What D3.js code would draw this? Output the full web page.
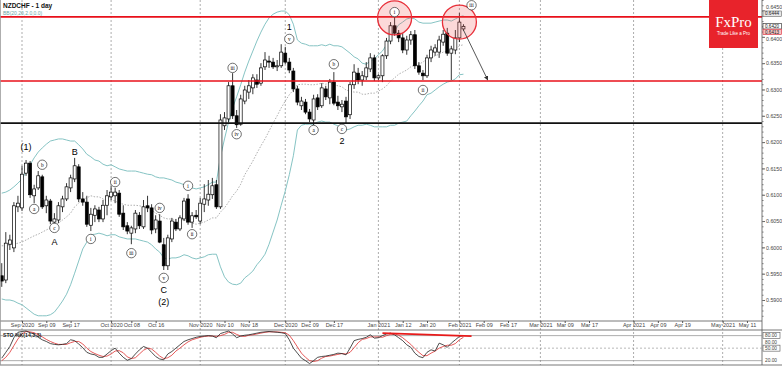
<!DOCTYPE html>
<html>
<head>
<meta charset="utf-8">
<script src="https://cdn.jsdelivr.net/npm/d3@7"></script>
<style>
body { margin: 0; background: #fff; }
svg { display: block; font-family: "Liberation Sans", Arial, sans-serif; }
</style>
</head>
<body>
<svg id="chart" width="782" height="366"></svg>
<script>
// NZDCHF daily candles, 25 Aug 2020 .. 2 Feb 2021 (+ empty future area)
var firstDay = "2020-08-25", lastDay = "2021-05-14";
var holidays = ["2021-01-01"];

var open = [.5946,.5938,.6006,.5999,.6077,.6075,.6141,.6160,.6098,.6113,
  .6134,.6079,.6088,.6048,.6052,.6077,.6092,.6113,.6130,.6153,
  .6092,.6086,.6042,.6061,.6071,.6054,.6080,.6096,.6098,.6103,
  .6065,.6041,.6027,.6035,.6061,.6039,.6079,.6075,.6035,.6050,
  .6005,.5965,.6016,.6048,.6035,.6054,.6092,.6048,.6061,.6050,
  .6082,.6090,.6100,.6119,.6077,.6231,.6244,.6307,.6250,.6234,
  .6278,.6295,.6303,.6318,.6312,.6343,.6354,.6352,.6343,.6345,
  .6369,.6352,.6335,.6301,.6269,.6276,.6257,.6242,.6284,.6269,
  .6301,.6284,.6314,.6276,.6267,.6278,.6252,.6309,.6331,.6318,
  .6324,.6339,.6360,.6322,.6326,.6364,.6392,.6421,.6407,.6398,
  .6375,.6394,.6404,.6345,.6331,.6326,.6360,.6371,.6371,.6390,
  .6407,.6369,.6375,.6398,.6415];
var high = [.5970,.6029,.6024,.6086,.6098,.6155,.6166,.6164,.6119,.6145,
  .6138,.6098,.6092,.6065,.6086,.6098,.6122,.6138,.6170,.6158,
  .6105,.6098,.6075,.6080,.6077,.6090,.6109,.6117,.6113,.6109,
  .6080,.6048,.6041,.6071,.6067,.6090,.6098,.6082,.6061,.6063,
  .6018,.6024,.6056,.6054,.6061,.6094,.6101,.6067,.6071,.6094,
  .6120,.6128,.6132,.6128,.6253,.6257,.6314,.6331,.6261,.6290,
  .6307,.6318,.6329,.6329,.6350,.6371,.6364,.6360,.6356,.6386,
  .6381,.6360,.6341,.6307,.6286,.6282,.6263,.6290,.6291,.6312,
  .6307,.6320,.6333,.6288,.6280,.6286,.6314,.6348,.6341,.6335,
  .6352,.6369,.6366,.6329,.6367,.6398,.6428,.6438,.6413,.6407,
  .6402,.6411,.6413,.6352,.6337,.6366,.6383,.6386,.6402,.6413,
  .6417,.6383,.6413,.6445,.6424];
var low = [.5925,.5932,.5995,.5991,.6067,.6069,.6136,.6094,.6084,.6109,
  .6073,.6065,.6044,.6041,.6046,.6067,.6088,.6105,.6124,.6086,
  .6079,.6039,.6031,.6048,.6048,.6048,.6061,.6090,.6084,.6058,
  .6033,.6025,.6006,.6027,.6035,.6035,.6067,.6025,.6027,.6008,
  .5957,.5957,.6010,.6031,.6031,.6050,.6043,.6037,.6054,.6044,
  .6067,.6079,.6092,.6073,.6073,.6223,.6238,.6244,.6227,.6231,
  .6272,.6282,.6291,.6303,.6307,.6337,.6341,.6339,.6335,.6341,
  .6348,.6331,.6295,.6270,.6261,.6253,.6238,.6232,.6261,.6265,
  .6280,.6272,.6270,.6261,.6257,.6236,.6244,.6301,.6310,.6307,
  .6318,.6333,.6316,.6318,.6314,.6358,.6386,.6402,.6390,.6369,
  .6366,.6385,.6339,.6328,.6318,.6322,.6352,.6364,.6360,.6383,
  .6364,.6318,.6367,.6390,.6411];
var close = [.5936,.6008,.6014,.6079,.6084,.6139,.6160,.6100,.6111,.6136,
  .6077,.6090,.6050,.6054,.6079,.6092,.6115,.6132,.6155,.6092,
  .6086,.6044,.6063,.6073,.6054,.6080,.6098,.6105,.6105,.6063,
  .6039,.6031,.6037,.6065,.6041,.6077,.6075,.6033,.6052,.6010,
  .5965,.6018,.6050,.6035,.6056,.6088,.6048,.6060,.6058,.6084,
  .6092,.6101,.6117,.6077,.6242,.6246,.6307,.6250,.6233,.6282,
  .6299,.6307,.6322,.6310,.6341,.6356,.6352,.6343,.6345,.6371,
  .6352,.6337,.6301,.6276,.6278,.6257,.6244,.6282,.6267,.6303,
  .6286,.6314,.6274,.6269,.6272,.6248,.6309,.6333,.6318,.6326,
  .6341,.6360,.6322,.6326,.6364,.6392,.6421,.6407,.6398,.6375,
  .6394,.6404,.6345,.6333,.6326,.6360,.6375,.6379,.6394,.6405,
  .6369,.6377,.6398,.6428,.6420];

// Bollinger bands (20, 2.0)
var bbUpper = [.6103,.6105,.6109,.6115,.6122,.6130,.6143,.6157,.6170,.6181,
  .6189,.6196,.6202,.6204,.6206,.6206,.6204,.6202,.6202,.6195,
  .6187,.6177,.6172,.6166,.6164,.6158,.6155,.6157,.6153,.6149,
  .6147,.6145,.6145,.6145,.6143,.6141,.6139,.6138,.6134,.6132,
  .6132,.6130,.6128,.6124,.6122,.6119,.6117,.6113,.6111,.6113,
  .6115,.6119,.6124,.6124,.6172,.6206,.6238,.6265,.6286,.6309,
  .6333,.6354,.6373,.6392,.6409,.6424,.6436,.6443,.6447,.6449,
  .6449,.6442,.6424,.6394,.6388,.6386,.6383,.6383,.6383,.6385,
  .6383,.6386,.6383,.6383,.6381,.6375,.6369,.6362,.6358,.6350,
  .6348,.6354,.6358,.6366,.6373,.6385,.6400,.6411,.6423,.6428,
  .6434,.6436,.6434,.6428,.6426,.6426,.6426,.6428,.6430,.6432,
  .6432,.6430,.6434,.6438,.6440];
var bbMid = [.6003,.6003,.6005,.6006,.6008,.6010,.6014,.6018,.6022,.6025,
  .6029,.6033,.6037,.6041,.6046,.6052,.6058,.6065,.6077,.6084,
  .6092,.6094,.6098,.6096,.6096,.6092,.6088,.6090,.6088,.6084,
  .6082,.6080,.6080,.6080,.6079,.6077,.6075,.6071,.6065,.6061,
  .6056,.6054,.6054,.6052,.6052,.6052,.6050,.6046,.6044,.6046,
  .6048,.6052,.6056,.6056,.6067,.6075,.6086,.6098,.6107,.6120,
  .6138,.6151,.6164,.6179,.6193,.6206,.6221,.6236,.6250,.6265,
  .6278,.6290,.6299,.6309,.6310,.6310,.6309,.6309,.6310,.6312,
  .6310,.6312,.6309,.6307,.6305,.6299,.6297,.6295,.6295,.6291,
  .6291,.6293,.6293,.6297,.6301,.6307,.6316,.6322,.6329,.6333,
  .6337,.6343,.6347,.6348,.6352,.6358,.6360,.6364,.6367,.6371,
  .6373,.6373,.6377,.6383,.6385];
var bbLower = [.5902,.5900,.5900,.5898,.5894,.5891,.5885,.5879,.5873,.5870,
  .5870,.5870,.5872,.5877,.5887,.5898,.5911,.5929,.5951,.5974,
  .5997,.6010,.6024,.6025,.6027,.6025,.6022,.6024,.6024,.6020,
  .6018,.6016,.6016,.6016,.6014,.6012,.6010,.6005,.5997,.5991,
  .5980,.5978,.5980,.5980,.5982,.5986,.5984,.5980,.5978,.5980,
  .5982,.5986,.5987,.5987,.5963,.5944,.5934,.5930,.5929,.5932,
  .5942,.5948,.5955,.5967,.5976,.5987,.6006,.6029,.6052,.6080,
  .6107,.6138,.6174,.6223,.6232,.6234,.6234,.6234,.6238,.6240,
  .6238,.6238,.6234,.6231,.6229,.6223,.6225,.6229,.6232,.6232,
  .6234,.6232,.6229,.6229,.6229,.6229,.6232,.6232,.6236,.6238,
  .6240,.6250,.6259,.6269,.6278,.6290,.6293,.6299,.6305,.6310,
  .6314,.6316,.6320,.6328,.6329];

// Stochastic oscillator (main and signal)
var stoK = [26,40,54,75,88,90,91,87,84,76,70,66,61,59,58,59,61,70,68,60,
  51,40,36,34,28,28,36,44,50,38,28,21,25,36,46,54,50,40,30,24,
  22,36,42,50,58,66,70,73,76,78,79,80,79,75,85,88,91,84,75,79,
  81,82,84,86,88,89,90,89,88,87,85,70,50,38,26,20,13,20,28,30,
  31,33,35,38,37,34,50,68,71,73,76,82,74,75,80,84,86,82,75,68,
  58,52,38,30,27,40,46,43,62,58,52,62,70,78,80];
var stoD = [20,28,40,56,72,84,90,89,87,82,77,71,66,62,59,59,59,63,66,66,
  60,50,42,37,33,30,31,36,43,44,39,29,25,27,36,45,50,48,40,31,
  25,27,33,43,50,58,65,70,73,76,78,79,79,78,80,83,88,88,83,79,
  78,81,82,84,86,88,89,89,89,88,87,81,68,53,38,28,20,18,20,26,
  30,31,33,35,37,36,40,51,63,71,73,77,77,77,76,80,83,84,81,75,
  67,59,49,40,32,32,38,43,50,54,57,57,61,70,76];

var tickDates = ["2020-09-01","2020-09-09","2020-09-17","2020-10-01","2020-10-08","2020-10-16",
  "2020-11-02","2020-11-10","2020-11-18","2020-12-01","2020-12-09","2020-12-17",
  "2021-01-04","2021-01-12","2021-01-20","2021-02-01","2021-02-09","2021-02-17",
  "2021-03-01","2021-03-09","2021-03-17","2021-04-01","2021-04-09","2021-04-19",
  "2021-05-03","2021-05-11"];
var tickLabels = ["Sep 2020","Sep 09","Sep 17","Oct 2020","Oct 08","Oct 16",
  "Nov 2020","Nov 10","Nov 18","Dec 2020","Dec 09","Dec 17",
  "Jan 2021","Jan 12","Jan 20","Feb 2021","Feb 09","Feb 17",
  "Mar 2021","Mar 09","Mar 17","Apr 2021","Apr 09","Apr 19",
  "May 2021","May 11"];
var priceTicks = [0.5900,0.5950,0.6000,0.6050,0.6100,0.6150,0.6200,0.6250,0.6300,0.6350,0.6400,0.6450];

var redLevels = [0.6438, 0.6316];
var blackLevels = [0.6236];
var priceBoxes = [0.6444, 0.6420, 0.6413];
var stoLevels = [80, 50, 20];

// wave count: bar number, price, text, circled?
var waveLabels = [
  [6,.6191,"(1)",0],[10,.6157,"b",1],[8,.6073,"a",1],[13,.6037,"c",1],[13,.6010,"A",0],
  [18,.6181,"B",0],[22,.6016,"i",1],[28,.6124,"ii",1],[32,.5989,"iii",1],[39,.6075,"iv",1],
  [40,.5942,"v",1],[40,.5919,"C",0],[40,.5896,"(2)",0],[46,.6117,"i",1],[47,.6025,"ii",1],
  [57,.6341,"iii",1],[58,.6215,"iv",1],[71,.6396,"v",1],[71,.6419,"1",0],[77,.6223,"a",1],
  [82,.6348,"b",1],[84,.6225,"c",1],[84,.6202,"2",0],[97,.6447,"i",1],[104,.6299,"ii",1],
  [116,.6460,"iii",1]];
var circles = [["2021-01-08", 0.6436], ["2021-02-01", 0.6428]];
var arrow = [["2021-02-02", 0.6413], ["2021-02-10", 0.6318]];
var stoTrend = [["2021-01-05", 86], ["2021-02-04", 79]];

var svg = d3.select("#chart");
var plotRight = 762, mainBottom = 321, panelTop = 330, panelBottom = 365;
var axisFont = "Liberation Sans, Arial, sans-serif";

var parse = d3.timeParse("%Y-%m-%d"), fmt = d3.timeFormat("%Y-%m-%d");
var days = d3.timeDay.range(parse(firstDay), d3.timeDay.offset(parse(lastDay), 1))
  .filter(function (d) { return d.getDay() > 0 && d.getDay() < 6; })
  .map(fmt)
  .filter(function (s) { return holidays.indexOf(s) < 0; });

var barStep = 4.05;
var x = d3.scalePoint().domain(days).range([1.75, 1.75 + barStep * (days.length - 1)]);
var y = d3.scaleLinear().domain([0.5900, 0.6470]).range([300, 0]);
var ys = d3.scaleLinear().domain([0, 100]).range([369, 327.3]);

svg.append("rect").attr("width", 782).attr("height", 366).attr("fill", "#fff");

var defs = svg.append("defs");
defs.append("clipPath").attr("id", "mainClip").append("rect")
  .attr("x", 0).attr("y", 0).attr("width", plotRight).attr("height", mainBottom);
defs.append("clipPath").attr("id", "panelClip").append("rect")
  .attr("x", 0).attr("y", panelTop).attr("width", plotRight).attr("height", panelBottom - panelTop);
defs.append("marker").attr("id", "arrowHead").attr("viewBox", "0 0 10 10")
  .attr("refX", 9).attr("refY", 5).attr("markerWidth", 5).attr("markerHeight", 5)
  .attr("orient", "auto")
  .append("path").attr("d", "M0,0 L10,5 L0,10 z").attr("fill", "#333");

// month separators
var monthTicks = tickDates.filter(function (d, i) { return /\d{4}/.test(tickLabels[i]); });
svg.append("g").selectAll("line").data(monthTicks).enter().append("line")
  .attr("x1", function (d) { return x(d); }).attr("x2", function (d) { return x(d); })
  .attr("y1", 0).attr("y2", panelBottom)
  .attr("stroke", "#8a8a8a").attr("stroke-width", 0.7).attr("stroke-dasharray", "2,2");

var main = svg.append("g").attr("clip-path", "url(#mainClip)");
var bars = d3.range(close.length);

// Bollinger bands
var bandLine = function (arr) {
  return d3.line().x(function (i) { return x(days[i]); }).y(function (i) { return y(arr[i]); })(bars);
};
main.append("path").attr("d", bandLine(bbUpper)).attr("fill", "none").attr("stroke", "#86c4c4").attr("stroke-width", 1);
main.append("path").attr("d", bandLine(bbLower)).attr("fill", "none").attr("stroke", "#86c4c4").attr("stroke-width", 1);
main.append("path").attr("d", bandLine(bbMid)).attr("fill", "none").attr("stroke", "#999")
  .attr("stroke-width", 0.8).attr("stroke-dasharray", "1.5,1.5");

// candles
var candle = main.append("g").selectAll("g").data(bars).enter().append("g");
candle.append("line")
  .attr("x1", function (i) { return x(days[i]); }).attr("x2", function (i) { return x(days[i]); })
  .attr("y1", function (i) { return y(high[i]); }).attr("y2", function (i) { return y(low[i]); })
  .attr("stroke", "#000").attr("stroke-width", 0.8);
candle.append("rect")
  .attr("x", function (i) { return x(days[i]) - 1.5; })
  .attr("width", 3)
  .attr("y", function (i) { return y(Math.max(open[i], close[i])); })
  .attr("height", function (i) { return Math.max(0.8, Math.abs(y(open[i]) - y(close[i]))); })
  .attr("fill", function (i) { return close[i] >= open[i] ? "#fff" : "#000"; })
  .attr("stroke", "#000").attr("stroke-width", 0.7);

// horizontal levels
main.selectAll(".red").data(redLevels).enter().append("line")
  .attr("x1", 0).attr("x2", plotRight)
  .attr("y1", function (d) { return y(d); }).attr("y2", function (d) { return y(d); })
  .attr("stroke", "#e8101a").attr("stroke-width", 1.6);
main.selectAll(".blk").data(blackLevels).enter().append("line")
  .attr("x1", 0).attr("x2", plotRight)
  .attr("y1", function (d) { return y(d); }).attr("y2", function (d) { return y(d); })
  .attr("stroke", "#111").attr("stroke-width", 1.6);

// highlight circles
main.selectAll(".hl").data(circles).enter().append("circle")
  .attr("cx", function (d) { return x(d[0]); }).attr("cy", function (d) { return y(d[1]); })
  .attr("r", 17).attr("fill", "rgba(240,80,80,0.22)").attr("stroke", "#e8303a").attr("stroke-width", 1.3);

// projection arrow
main.append("line")
  .attr("x1", x(arrow[0][0])).attr("y1", y(arrow[0][1]))
  .attr("x2", x(arrow[1][0])).attr("y2", y(arrow[1][1]))
  .attr("stroke", "#444").attr("stroke-width", 0.9).attr("marker-end", "url(#arrowHead)");

// wave labels
var wl = main.append("g").selectAll("g").data(waveLabels).enter().append("g")
  .attr("transform", function (d) { return "translate(" + x(days[d[0]]) + "," + y(d[1]) + ")"; });
wl.filter(function (d) { return d[3]; }).append("circle")
  .attr("r", 4.7).attr("fill", "#fff").attr("stroke", "#333").attr("stroke-width", 0.7);
wl.append("text")
  .attr("text-anchor", "middle").attr("dy", "0.35em")
  .attr("font-size", function (d) { return d[3] ? 5.3 : 9; })
  .attr("font-family", function (d) { return d[3] ? "Liberation Serif, serif" : axisFont; })
  .attr("fill", "#000")
  .text(function (d) { return d[2]; });

// titles
svg.append("text").attr("x", 3).attr("y", 7.5).attr("font-size", 6.5).attr("font-weight", "bold")
  .attr("fill", "#111").text("NZDCHF - 1 day");
svg.append("text").attr("x", 3).attr("y", 14.5).attr("font-size", 5).attr("fill", "#6aa6a6")
  .text("BB(20,20,2.0,0.0)");

// logo
svg.append("rect").attr("x", 709).attr("y", 0).attr("width", 49).attr("height", 48).attr("fill", "#e8232b");
svg.append("text").attr("x", 733.5).attr("y", 27).attr("text-anchor", "middle")
  .attr("font-family", "Liberation Serif, DejaVu Serif, serif").attr("font-size", 15).attr("fill", "#fff").text("FxPro");
svg.append("text").attr("x", 733.5).attr("y", 34.5).attr("text-anchor", "middle")
  .attr("font-size", 4.5).attr("fill", "#fff").text("Trade Like a Pro");

// frame lines
svg.append("line").attr("x1", 0).attr("x2", plotRight).attr("y1", mainBottom).attr("y2", mainBottom).attr("stroke", "#555").attr("stroke-width", 0.8);
svg.append("line").attr("x1", 0).attr("x2", 782).attr("y1", panelTop).attr("y2", panelTop).attr("stroke", "#555").attr("stroke-width", 0.8);
svg.append("line").attr("x1", 0).attr("x2", 782).attr("y1", panelBottom).attr("y2", panelBottom).attr("stroke", "#555").attr("stroke-width", 0.8);
svg.append("line").attr("x1", plotRight).attr("x2", plotRight).attr("y1", 0).attr("y2", panelBottom).attr("stroke", "#555").attr("stroke-width", 0.8);
svg.append("line").attr("x1", 0.5).attr("x2", 0.5).attr("y1", 0).attr("y2", panelBottom).attr("stroke", "#999").attr("stroke-width", 0.8);

// current price boxes, stacked so they do not overlap
var boxH = 5.4, boxY = [];
priceBoxes.forEach(function (p, i) {
  var c = y(p);
  if (i > 0 && c - boxY[i - 1] < boxH + 0.2) c = boxY[i - 1] + boxH + 0.2;
  boxY.push(c);
});

// price axis; labels are nudged away from the price boxes
var yAxis = d3.axisRight(y).tickValues(priceTicks).tickFormat(d3.format(".4f")).tickSize(3).tickPadding(1);
var ya = svg.append("g").attr("transform", "translate(" + plotRight + ",0)").call(yAxis);
ya.select(".domain").remove();
ya.selectAll("line").attr("stroke", "#666");
ya.selectAll("text").attr("font-size", 5.3).attr("fill", "#444").attr("font-family", axisFont)
  .attr("y", function (d) {
    var t = y(d), shift = 0;
    boxY.forEach(function (b) {
      var gap = 6.6;
      if (Math.abs(t + shift - b) < gap) shift = (t < b ? b - gap : b + gap) - t;
    });
    return shift;
  });
var minor = svg.append("g").attr("transform", "translate(" + plotRight + ",0)")
  .call(d3.axisRight(y).tickValues(d3.range(0.5870, 0.6470, 0.0010)).tickSize(1.5).tickFormat(""));
minor.select(".domain").remove();
minor.selectAll("line").attr("stroke", "#777");

var boxStyle = [["#e6e6e6", "#666", "#222"], ["#fff", "#222", "#111"], ["#f4c4c4", "#d23", "#222"]];
var pb = svg.append("g").selectAll("g").data(priceBoxes).enter().append("g")
  .attr("transform", function (d, i) { return "translate(" + (plotRight + 1) + "," + boxY[i] + ")"; });
pb.append("rect").attr("x", 0).attr("y", -boxH / 2).attr("width", 18.5).attr("height", boxH)
  .attr("fill", function (d, i) { return boxStyle[i][0]; })
  .attr("stroke", function (d, i) { return boxStyle[i][1]; }).attr("stroke-width", 0.6);
pb.append("text").attr("x", 2).attr("dy", "0.35em").attr("font-size", 4.6)
  .attr("fill", function (d, i) { return boxStyle[i][2]; })
  .text(function (d) { return d3.format(".4f")(d); });

// date axis
var xAxis = d3.axisBottom(x).tickValues(tickDates)
  .tickFormat(function (d, i) { return tickLabels[i]; }).tickSize(2).tickPadding(0.5);
var xa = svg.append("g").attr("transform", "translate(0," + mainBottom + ")").call(xAxis);
xa.select(".domain").remove();
xa.selectAll("text").attr("font-size", 5.5).attr("fill", "#444").attr("font-family", axisFont);
xa.selectAll("line").attr("stroke", "#555");

// stochastic panel
var panel = svg.append("g").attr("clip-path", "url(#panelClip)");
panel.selectAll(".lvl").data(stoLevels).enter().append("line")
  .attr("x1", 0).attr("x2", plotRight)
  .attr("y1", function (d) { return ys(d); }).attr("y2", function (d) { return ys(d); })
  .attr("stroke", function (d) { return d === 50 ? "#999" : "#888"; }).attr("stroke-width", 0.7)
  .attr("stroke-dasharray", function (d) { return d === 50 ? "2,2" : null; });
var stoLine = function (arr) {
  return d3.line().x(function (i) { return x(days[i]); }).y(function (i) { return ys(arr[i]); })(bars);
};
panel.append("path").attr("d", stoLine(stoD)).attr("fill", "none").attr("stroke", "#e03030").attr("stroke-width", 0.8);
panel.append("path").attr("d", stoLine(stoK)).attr("fill", "none").attr("stroke", "#222").attr("stroke-width", 0.8);
panel.append("line")
  .attr("x1", x(stoTrend[0][0])).attr("y1", ys(stoTrend[0][1]))
  .attr("x2", x(stoTrend[1][0])).attr("y2", ys(stoTrend[1][1]))
  .attr("stroke", "#e81a1a").attr("stroke-width", 1.8);
svg.append("text").attr("x", 3).attr("y", 337).attr("font-size", 5.2).attr("font-weight", "bold")
  .attr("fill", "#222").text("STO %K(14,3,3)");

// stochastic scale labels
var stoLabels = [[stoK[stoK.length - 1], true], [80, false], [50, true], [20, false]];
var stoLabelY = [ys(stoK[stoK.length - 1]), 342, ys(50), ys(20)];
var sl = svg.append("g").selectAll("g").data(stoLabels).enter().append("g")
  .attr("transform", function (d, i) { return "translate(" + (plotRight + 1) + "," + stoLabelY[i] + ")"; });
sl.filter(function (d) { return d[1]; }).append("rect").attr("y", -3).attr("width", 17).attr("height", 6)
  .attr("fill", "#fff").attr("stroke", "#555").attr("stroke-width", 0.6);
sl.append("text").attr("x", 2).attr("dy", "0.35em").attr("font-size", 4.8).attr("fill", "#444")
  .text(function (d) { return d3.format(".2f")(d[0]); });
</script>
</body>
</html>
